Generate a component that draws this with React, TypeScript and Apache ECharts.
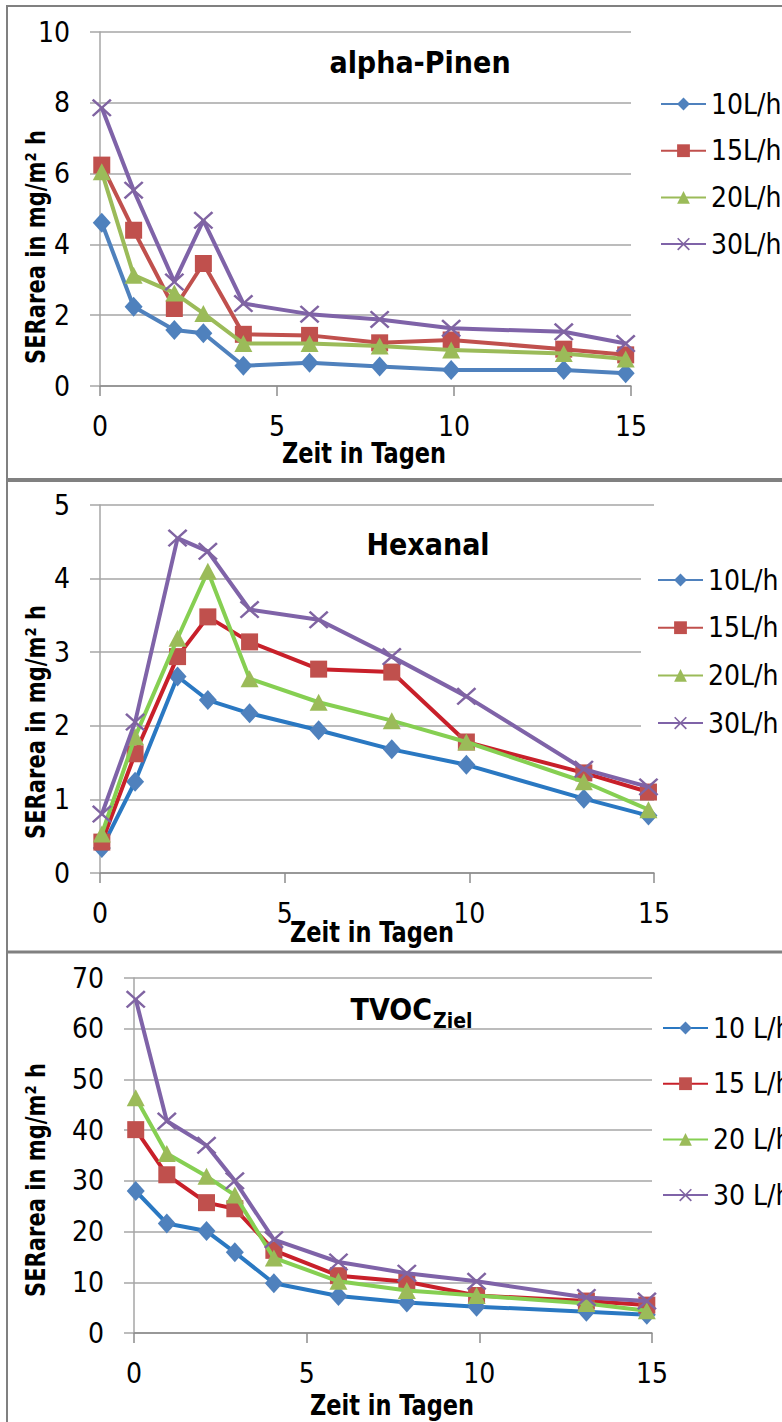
import React, { useEffect, useRef } from "react";
import * as echarts from "echarts";

// ---------- data ----------
const days = [0.05, 0.95, 2.1, 2.92, 4.05, 5.92, 7.9, 9.92, 13.1, 14.85];

const namesA = ["10L/h", "15L/h", "20L/h", "30L/h"];
const namesB = ["10 L/h", "15 L/h", "20 L/h", "30 L/h"];

const pinen10 = [4.61, 2.24, 1.58, 1.49, 0.57, 0.66, 0.55, 0.45, 0.45, 0.36];
const pinen15 = [6.24, 4.4, 2.19, 3.46, 1.46, 1.43, 1.22, 1.3, 1.04, 0.88];
const pinen20 = [6.05, 3.13, 2.63, 2.05, 1.2, 1.2, 1.13, 1.02, 0.92, 0.76];
const pinen30 = [7.86, 5.53, 2.94, 4.68, 2.33, 2.03, 1.88, 1.63, 1.53, 1.2];

const hex10 = [0.34, 1.24, 2.67, 2.35, 2.17, 1.94, 1.68, 1.47, 1.01, 0.78];
const hex15 = [0.42, 1.62, 2.94, 3.48, 3.14, 2.77, 2.73, 1.78, 1.36, 1.1];
const hex20 = [0.53, 1.85, 3.19, 4.1, 2.64, 2.32, 2.07, 1.78, 1.24, 0.86];
const hex30 = [0.8, 2.05, 4.55, 4.37, 3.58, 3.44, 2.94, 2.4, 1.41, 1.17];

const tvoc10 = [28.0, 21.6, 20.1, 15.9, 9.8, 7.3, 6.0, 5.2, 4.2, 3.6];
const tvoc15 = [40.1, 31.2, 25.7, 24.5, 16.3, 11.3, 10.1, 7.4, 6.3, 5.5];
const tvoc20 = [46.4, 35.4, 30.9, 27.2, 14.8, 10.2, 8.4, 7.4, 5.8, 4.4];
const tvoc30 = [65.8, 41.8, 37.0, 30.0, 18.4, 14.0, 11.8, 10.2, 7.0, 6.3];

const xTicks = { min: 0, max: 15, interval: 5 };
const yTicks = [
  { min: 0, max: 10, interval: 2 },
  { min: 0, max: 5, interval: 1 },
  { min: 0, max: 70, interval: 10 },
];

// ---------- styles ----------
const NARROW = "'Liberation Sans Narrow', 'DejaVu Sans Condensed', Roboto, sans-serif";
const WIDE = "'DejaVu Sans', Verdana, sans-serif";

const markerColors = ["#4F81BD", "#C0504D", "#9BBB59", "#8064A2"];
const lineColorsA = ["#4F81BD", "#C0504D", "#9BBB59", "#7F63A8"];
const lineColorsB = ["#2A78C2", "#C8202A", "#86CF52", "#7F63A8"];

const X_PATH =
  "path://M0,0.9 L0.9,0 L5,4.1 L9.1,0 L10,0.9 L5.9,5 L10,9.1 L9.1,10 L5,5.9 L0.9,10 L0,9.1 L4.1,5 Z";
const symbols = ["diamond", "rect", "triangle", X_PATH];
const symbolSizes: any[] = [[18, 20], 17, [18, 17], [20, 18]];

export default function App() {
  const ref = useRef<HTMLDivElement>(null);

  useEffect(() => {
    if (!ref.current) return;
    const chart = echarts.init(ref.current, null, { renderer: "svg" });

    const grids = [
      { left: 100, top: 32, width: 531, height: 354 },
      { left: 100, top: 505, width: 554, height: 368 },
      { left: 134, top: 978, width: 518, height: 355 },
    ];

    const xAxes = grids.map((_, i) => ({
      type: "value",
      gridIndex: i,
      ...xTicks,
      axisLine: { show: true, onZero: false, lineStyle: { color: "#8C8C8C", width: 1.5 } },
      axisTick: { show: true, length: 10, lineStyle: { color: "#8C8C8C", width: 1.5 } },
      splitLine: { show: false },
      axisLabel: { color: "#000", fontFamily: NARROW, fontSize: 28, margin: 26 },
    }));

    const yAxes = grids.map((_, i) => ({
      type: "value",
      gridIndex: i,
      ...yTicks[i],
      axisLine: { show: true, lineStyle: { color: "#A6A6A6", width: 1.5 } },
      axisTick: { show: true, length: 10, lineStyle: { color: "#A6A6A6", width: 1.5 } },
      splitLine: { show: true, lineStyle: { color: "#A6A6A6", width: 1.5 } },
      axisLabel: { color: "#000", fontFamily: NARROW, fontSize: 28, margin: 30 },
    }));

    const groups = [
      { names: namesA, data: [pinen10, pinen15, pinen20, pinen30], lines: lineColorsA },
      { names: namesA, data: [hex10, hex15, hex20, hex30], lines: lineColorsB },
      { names: namesB, data: [tvoc10, tvoc15, tvoc20, tvoc30], lines: lineColorsB },
    ];

    const series: any[] = [];
    groups.forEach((g, gi) => {
      g.data.forEach((vals, si) => {
        series.push({
          type: "line",
          name: g.names[si],
          xAxisIndex: gi,
          yAxisIndex: gi,
          data: days.map((d, k) => [d, vals[k]]),
          symbol: symbols[si],
          symbolSize: symbolSizes[si],
          showAllSymbol: true,
          lineStyle: { color: g.lines[si], width: 4 },
          itemStyle: { color: markerColors[si] },
          z: 2 + si,
        });
      });
    });

    const legendBase = {
      orient: "vertical",
      itemWidth: 45,
      itemHeight: 16,
      textStyle: { color: "#000", fontFamily: NARROW, fontSize: 28, lineHeight: 30 },
    };

    const legends = [
      { ...legendBase, left: 660, top: 89, itemGap: 16.7, padding: 0, data: namesA },
      {
        ...legendBase,
        left: 641,
        top: 560,
        itemGap: 17.7,
        padding: [5, 0, 10, 16],
        backgroundColor: "#fff",
        data: namesA,
      },
      { ...legendBase, left: 662, top: 1013, itemGap: 25.7, padding: 0, data: namesB },
    ];

    const border = { stroke: "#808080" };
    const yTitle = "SERarea in mg/m² h";
    const xTitle = "Zeit in Tagen";
    const boldNarrow = { fontFamily: NARROW, fontWeight: "bold", fontSize: 30, fill: "#000" };
    const xTitleStyle = { ...boldNarrow, fontSize: 25, text: xTitle, align: "center", verticalAlign: "middle" };

    const graphic: any[] = [
      // panel frames
      { type: "line", shape: { x1: 6, y1: 6, x2: 782, y2: 6 }, style: { ...border, lineWidth: 2 } },
      { type: "line", shape: { x1: 7, y1: 5, x2: 7, y2: 1422 }, style: { ...border, lineWidth: 2 } },
      { type: "line", shape: { x1: 6, y1: 480, x2: 782, y2: 480 }, style: { ...border, lineWidth: 4 } },
      { type: "line", shape: { x1: 6, y1: 952, x2: 782, y2: 952 }, style: { ...border, lineWidth: 3 } },
      // chart titles
      { type: "text", x: 420, y: 62, style: { ...boldNarrow, text: "alpha-Pinen", align: "center", verticalAlign: "middle" } },
      { type: "text", x: 428, y: 544, style: { ...boldNarrow, text: "Hexanal", align: "center", verticalAlign: "middle" } },
      { type: "text", x: 432, y: 1009, style: { ...boldNarrow, text: "TVOC", align: "right", verticalAlign: "middle" } },
      { type: "text", x: 433, y: 1021, style: { ...boldNarrow, fontSize: 21, text: "Ziel", align: "left", verticalAlign: "middle" } },
      // x titles
      { type: "text", x: 364, y: 453, scaleY: 1.15, style: xTitleStyle },
      { type: "text", x: 372, y: 932, scaleY: 1.15, style: xTitleStyle },
      { type: "text", x: 392, y: 1405, scaleY: 1.15, style: xTitleStyle },
    ];
    [247, 722, 1180].forEach((cy) => {
      graphic.push({
        type: "text",
        x: 36,
        y: cy,
        rotation: Math.PI / 2,
        scaleX: 0.78,
        style: {
          text: yTitle,
          fontFamily: WIDE,
          fontWeight: "bold",
          fontSize: 27,
          fill: "#000",
          align: "center",
          verticalAlign: "middle",
        },
      });
    });

    chart.setOption({
      animation: false,
      backgroundColor: "#fff",
      grid: grids,
      xAxis: xAxes,
      yAxis: yAxes,
      legend: legends,
      series,
      graphic,
    });

    return () => chart.dispose();
  }, []);

  return (
    <div style={{ position: "absolute", left: 0, top: 0, width: 782, height: 1422, background: "#fff" }}>
      <div ref={ref} style={{ width: 782, height: 1422 }} />
    </div>
  );
}
